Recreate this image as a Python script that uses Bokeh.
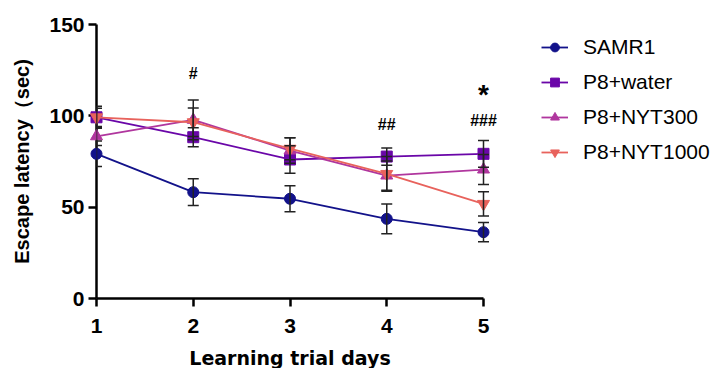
from bokeh.plotting import figure
from bokeh.models import Range1d, Whisker, ColumnDataSource, Legend, LegendItem, FixedTicker, TeeHead
from bokeh.core.properties import value
from bokeh.embed import file_html
from bokeh.resources import INLINE

days = [1, 2, 3, 4, 5]
groups = ["SAMR1", "P8+water", "P8+NYT300", "P8+NYT1000"]
samr1 = [79.2, 58.2, 54.6, 43.6, 36.3]
samr1_err = [7.0, 7.3, 7.1, 8.2, 5.3]
p8_water = [99.2, 88.3, 76.1, 77.7, 79.2]
p8_water_err = [6.0, 5.2, 7.5, 4.7, 7.3]
p8_nyt300 = [88.8, 97.8, 81.0, 67.3, 70.6]
p8_nyt300_err = [5.0, 10.9, 7.0, 8.0, 8.2]
p8_nyt1000 = [99.2, 96.5, 82.0, 68.2, 51.8]
p8_nyt1000_err = [5.0, 7.8, 6.0, 9.5, 6.6]
hash_x = [2, 4, 5]
hash_y = [123.0, 95.0, 97.5]
hash_text = ["#", "##", "###"]
star_x = [5]
star_y = [111.5]
star_text = ["*"]
y_ticks = [0, 50, 100, 150]
x_title = "Learning trial days"
y_title = "Escape latency（sec)"

series = [
    (groups[0], samr1, samr1_err, "#12128a", "circle", 11),
    (groups[1], p8_water, p8_water_err, "#6a06a8", "square", 11),
    (groups[2], p8_nyt300, p8_nyt300_err, "#b0369e", "triangle", 12),
    (groups[3], p8_nyt1000, p8_nyt1000_err, "#e8625c", "inverted_triangle", 12),
]

W, H = 713, 368
LEFT, RIGHT, TOP, BOTTOM = 96, 0, 24, 70
Y_MAX = 150
DAY_SPAN_PX = 387  # pixel distance from first to last day
frame_w = W - LEFT - RIGHT
frame_h = H - TOP - BOTTOM
x_end = days[0] + (days[-1] - days[0]) * frame_w / DAY_SPAN_PX

p = figure(width=W, height=H, output_backend="svg", toolbar_location=None,
           x_range=Range1d(days[0], x_end), y_range=Range1d(0, Y_MAX),
           min_border_left=LEFT, min_border_right=RIGHT, min_border_top=TOP,
           min_border_bottom=BOTTOM)
p.outline_line_color = None
p.grid.visible = False
p.background_fill_color = "white"

for ax in (p.xaxis[0], p.yaxis[0]):
    ax.axis_line_width = 2.5
    ax.axis_line_color = "black"
    ax.major_tick_line_width = 2.5
    ax.major_tick_line_color = "black"
    ax.major_tick_out = 8
    ax.major_tick_in = 0
    ax.minor_tick_line_color = None
    ax.major_label_text_font = "Liberation Sans"
    ax.major_label_text_font_style = "bold"
    ax.major_label_text_font_size = "21px"
    ax.major_label_text_color = "black"
    ax.axis_label_text_font_style = "bold"
    ax.axis_label_text_color = "black"

p.xaxis.bounds = (days[0], days[-1])
p.xaxis.ticker = FixedTicker(ticks=days)
p.yaxis.ticker = FixedTicker(ticks=y_ticks)
p.xaxis.major_label_standoff = 12
p.yaxis.major_label_standoff = 4
p.yaxis.axis_label = y_title
p.yaxis.axis_label_text_font = "Liberation Sans"
p.yaxis.axis_label_text_font_size = "20px"
p.yaxis.axis_label_standoff = 13

# x-axis title, centred under the middle day, 59 px below the axis
p.text([(days[0] + days[-1]) / 2], [-59 * Y_MAX / frame_h], text=[x_title],
       text_align="center", text_baseline="middle",
       text_font=value("DejaVu Sans"), text_font_style="bold",
       text_font_size="19px", text_color="black", level="overlay")

# error bars first
for name, vals, errs, color, marker, size in series:
    src = ColumnDataSource(dict(x=days, lo=[v - e for v, e in zip(vals, errs)],
                                hi=[v + e for v, e in zip(vals, errs)]))
    w = Whisker(source=src, base="x", lower="lo", upper="hi", dimension="height",
                line_color="#222222", line_width=1.5, level="overlay",
                upper_head=TeeHead(size=11, line_color="#222222", line_width=1.5),
                lower_head=TeeHead(size=11, line_color="#222222", line_width=1.5))
    p.add_layout(w)

items = []
for name, vals, errs, color, marker, size in series:
    lr = p.line(days, vals, line_color=color, line_width=1.8, level="overlay")
    sr = p.scatter(days, vals, marker=marker, size=size, fill_color=color,
                   line_color=color, level="overlay")
    items.append(LegendItem(label=name, renderers=[lr, sr]))

p.text(hash_x, hash_y, text=hash_text, text_align="center", text_baseline="alphabetic",
       text_font=value("Liberation Sans"), text_font_style="bold", text_font_size="16px",
       text_color="black", level="overlay")
p.text(star_x, star_y, text=star_text, text_align="center", text_baseline="alphabetic",
       text_font=value("Liberation Sans"), text_font_style="bold", text_font_size="28px",
       text_color="black", level="overlay")

legend = Legend(items=items, location=(445, 134), orientation="vertical",
                padding=0, margin=0, spacing=11, glyph_width=27, glyph_height=22,
                label_height=22, label_standoff=15,
                label_text_font="Liberation Sans", label_text_font_size="21px",
                label_text_color="black", border_line_color=None,
                background_fill_alpha=0)
p.add_layout(legend)

open("out.html", "w").write(file_html(p, INLINE))
